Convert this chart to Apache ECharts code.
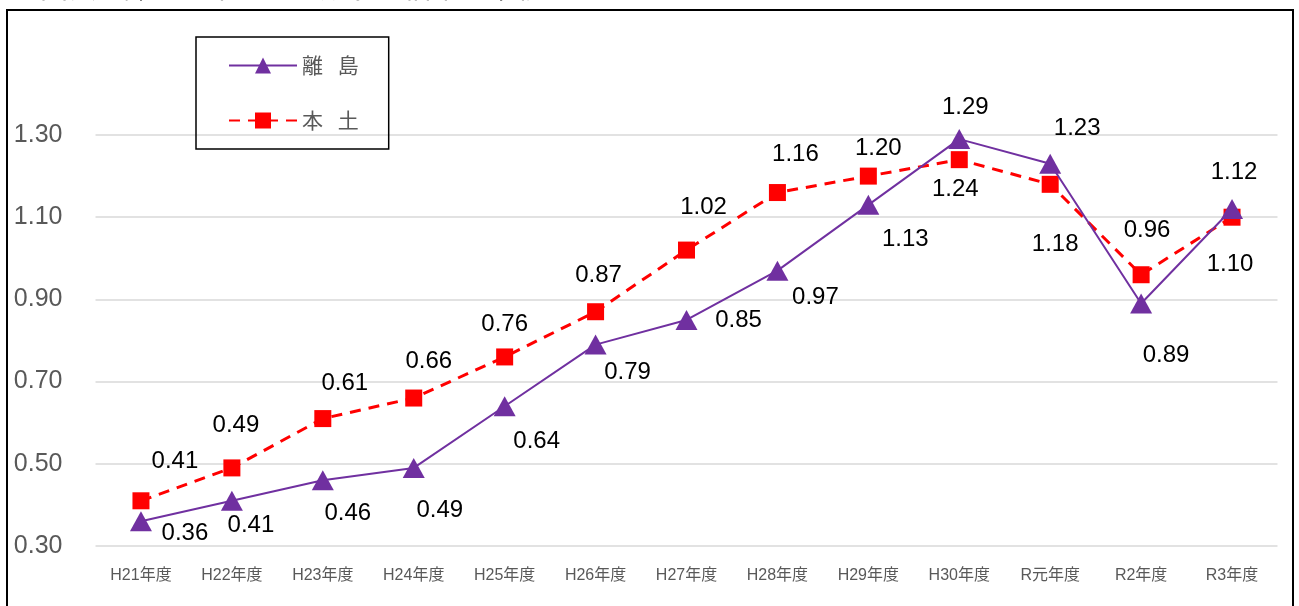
<!DOCTYPE html>
<html>
<head>
<meta charset="utf-8">
<script src="https://cdn.jsdelivr.net/npm/echarts@6/dist/echarts.min.js"></script>
<style>
html,body{margin:0;padding:0;background:#fff;}
#chart{width:1299px;height:606px;}
</style>
</head>
<body>
<div id="chart"></div>
<script>
var categories = ['H21年度','H22年度','H23年度','H24年度','H25年度','H26年度','H27年度','H28年度','H29年度','H30年度','R元年度','R2年度','R3年度'];
var islandValues = [0.36,0.41,0.46,0.49,0.64,0.79,0.85,0.97,1.13,1.29,1.23,0.89,1.12];
var mainlandValues = [0.41,0.49,0.61,0.66,0.76,0.87,1.02,1.16,1.20,1.24,1.18,0.96,1.10];
var yTicks = [0.30,0.50,0.70,0.90,1.10,1.30];
var seriesNames = ['離 島','本 土'];
var titleText = '図表　離島と本土の有効求人倍率の推移';

// label offsets (presentation only)
var islandLabelOffsets = [[44,12],[19,25],[25,33],[26,42],[32,35],[32,28],[52,0],[38,27],[37,35],[6,-32],[27,-35],[25,52],[2,-37]];
var mainlandLabelOffsets = [[34,-39],[4,-43],[22,-35],[15,-37],[0,-33],[3,-36],[17,-43],[18,-38],[10,-28],[-4,30],[5,60],[6,-44],[-2,47]];

function buildData(values, offsets){
  return values.map(function(v,i){
    return {value:v, label:{offset:offsets[i]}};
  });
}

var chart = echarts.init(document.getElementById('chart'));
var labelStyle = {
  show:true, position:'inside', color:'#000', fontSize:24,
  fontFamily:'Liberation Sans, Arial, sans-serif',
  formatter:function(p){return p.value.toFixed(2);}
};
chart.setOption({
  animation:false,
  backgroundColor:'#fff',
  graphic:[
    {type:'rect', shape:{x:7,y:10,width:1286,height:620}, style:{fill:'none',stroke:'#000',lineWidth:2}, z:100},
    {type:'text', x:40, y:-27, style:{text:titleText, fontSize:28, fill:'#000', fontFamily:'Noto Sans CJK JP'}}
  ],
  legend:{
    orient:'vertical', left:196, top:37,
    padding:[18,30,18,32],
    itemWidth:68, itemHeight:20, itemGap:34,
    borderColor:'#000', borderWidth:1.5,
    textStyle:{fontSize:21, color:'#595959', fontFamily:'Noto Sans CJK JP'},
    formatter:function(name){return name.replace(' ', '\u2002\u2009');},
    data:seriesNames
  },
  grid:{left:95.5, right:21.5, top:135, bottom:60},
  xAxis:{
    type:'category', data:categories, boundaryGap:true,
    axisLine:{show:false}, axisTick:{show:false},
    axisLabel:{fontSize:16, color:'#595959', margin:22, fontFamily:'Liberation Sans, Noto Sans CJK JP, sans-serif'}
  },
  yAxis:{
    type:'value', min:0.3, max:1.3, interval:0.2,
    axisLine:{show:false}, axisTick:{show:false},
    splitLine:{lineStyle:{color:'#d9d9d9', width:1.5}},
    axisLabel:{fontSize:25, color:'#595959', margin:33, fontFamily:'Liberation Sans, Arial, sans-serif',
      formatter:function(v){return v.toFixed(2);}}
  },
  series:[
    {
      name:seriesNames[0], type:'line', data:buildData(islandValues, islandLabelOffsets),
      symbol:'triangle', symbolSize:[22,20],
      itemStyle:{color:'#7030A0'},
      lineStyle:{color:'#7030A0', width:2},
      label:labelStyle, z:3
    },
    {
      name:seriesNames[1], type:'line', data:buildData(mainlandValues, mainlandLabelOffsets),
      symbol:'rect', symbolSize:17,
      itemStyle:{color:'#FF0000'},
      lineStyle:{color:'#FF0000', width:3, type:[11,8]},
      label:labelStyle, z:2
    }
  ]
});
</script>
</body>
</html>
